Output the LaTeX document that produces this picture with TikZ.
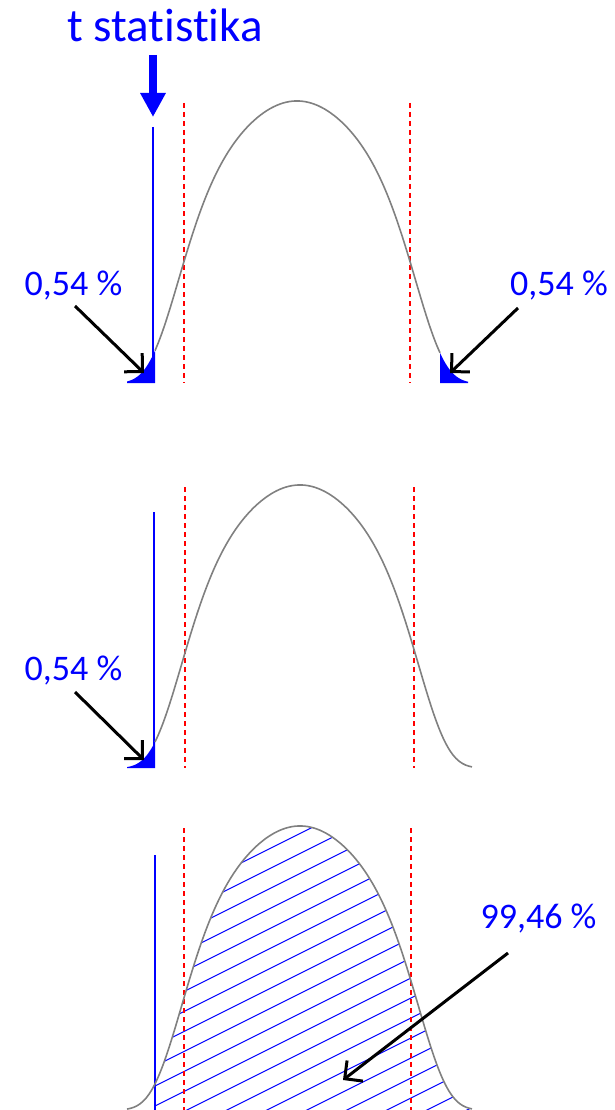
\documentclass[tikz,border=0pt]{standalone}
\usepackage{fontspec}
\setmainfont{Carlito}[Ligatures=NoCommon]
\usetikzlibrary{arrows.meta}
\begin{document}
\begin{tikzpicture}[x=1pt,y=-1pt,
  curve/.style={draw=black!50, line width=1.6pt},
  crit/.style={draw=red, dash pattern=on 5pt off 4pt, line width=1.3pt},
  tline/.style={draw=blue, line width=1.5pt},
  tail/.style={fill=blue},
  hatch/.style={draw=blue, line width=1pt},
  lab/.style={text=blue, font=\fontsize{36}{40}\selectfont, anchor=base, inner sep=0pt},
  title/.style={text=blue, font=\fontsize{47}{50}\selectfont, anchor=base, inner sep=0pt},
  pointer/.style={draw=black, line width=3pt, -{Straight Barb[length=13pt,width=26pt]}},
  bigarrow/.style={draw=blue, line width=8pt, -{Triangle[length=24pt,width=24pt]}},
  declare function={q(\x,\c)=((\x-\c)/100)*((\x-\c)/100);
                    f(\x,\c)=exp(-(0.3825*q(\x,\c)+0.17*q(\x,\c)*q(\x,\c)*q(\x,\c)));}
]
\useasboundingbox (0,0) rectangle (615,1110);

% title and thick arrow
\node[title] (title) at (165,42) {t statistika};
\coordinate (ta) at (153,55);
\coordinate (tb) at (153,117);
\draw[bigarrow] (ta) -- (tb);

% ---------- panel 1 ----------
\draw[tline] (153,127) -- (153,383);
\draw[crit] (184,103) -- (184,383);
\draw[crit] (410,103) -- (410,383);
\draw[curve] plot[domain=155:440, samples=90, smooth] (\x,{383-282*f(\x,297)});
\fill[tail] (127,383) -- plot[domain=127:155, samples=15, smooth] (\x,{383-282*f(\x,297)}) -- (155,383) -- cycle;
\fill[tail] (440,383) -- plot[domain=440:468, samples=15, smooth] (\x,{383-282*f(\x,297)}) -- (468,383) -- cycle;
\node[lab] (l1) at (73.5,295) {0,54 \%};
\node[lab] (r1) at (559,295) {0,54 \%};
\coordinate (l1s) at (75,306);
\coordinate (l1t) at (144,373);
\coordinate (r1s) at (518,308);
\coordinate (r1t) at (450,373);
\draw[pointer] (l1s) -- (l1t);
\draw[pointer] (r1s) -- (r1t);

% ---------- panel 2 ----------
\draw[tline] (154,512) -- (154,768);
\draw[crit] (185,487) -- (185,768);
\draw[crit] (414,487) -- (414,768);
\draw[curve] plot[domain=155:472, samples=100, smooth] (\x,{768-283*f(\x,300)});
\fill[tail] (127,768) -- plot[domain=127:155, samples=15, smooth] (\x,{768-283*f(\x,300)}) -- (155,768) -- cycle;
\node[lab] (l2) at (73.5,680) {0,54 \%};
\coordinate (l2s) at (75,692);
\coordinate (l2t) at (144,760);
\draw[pointer] (l2s) -- (l2t);

% ---------- panel 3 ----------
\begin{scope}
  \clip (155,1110) -- plot[domain=155:472, samples=100, smooth] (\x,{1110-284*f(\x,300)}) -- (472,1110) -- cycle;
  \foreach \k in {-7,...,20}
    \draw[hatch] (100,{933.5+20*\k}) -- ++(420,-210);
\end{scope}
\draw[tline] (155,855) -- (155,1110);
\draw[crit] (184,828) -- (184,1110);
\draw[crit] (411,828) -- (411,1110);
\draw[curve] plot[domain=127:472, samples=110, smooth] (\x,{1110-284*f(\x,300)});
\node[lab] (l3) at (538.5,928) {99,46 \%};
\coordinate (l3s) at (508,953);
\coordinate (l3t) at (343,1080);
\draw[pointer] (l3s) -- (l3t);
\end{tikzpicture}
\end{document}
